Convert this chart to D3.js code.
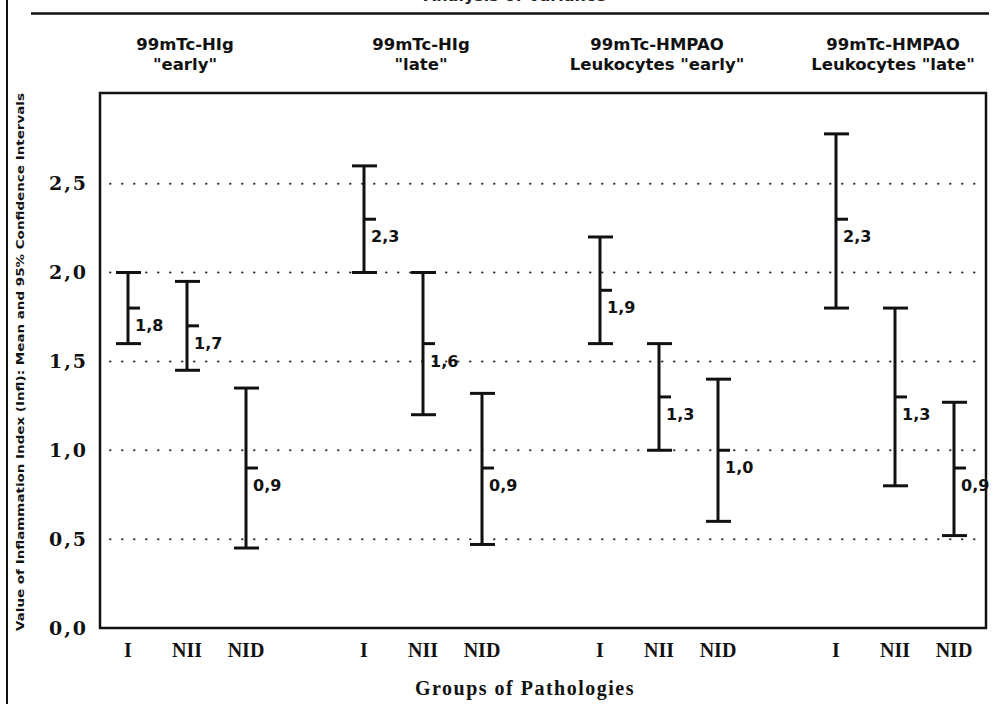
<!DOCTYPE html>
<html>
<head>
<meta charset="utf-8">
<script src="https://cdn.jsdelivr.net/npm/d3@7"></script>
<style>
  body { margin: 0; background: #fff; }
  svg { display: block; }
</style>
</head>
<body>
<div id="container"></div>
<script>
// data
var groupLine1 = ["99mTc-HIg", "99mTc-HIg", "99mTc-HMPAO", "99mTc-HMPAO"]
var groupLine2 = ['"early"', '"late"', 'Leukocytes "early"', 'Leukocytes "late"']
var pathologies = ["I", "NII", "NID"]
var means = [[1.8, 1.7, 0.9], [2.3, 1.6, 0.9], [1.9, 1.3, 1.0], [2.3, 1.3, 0.9]]
var upper = [[2.0, 1.95, 1.35], [2.6, 2.0, 1.32], [2.2, 1.6, 1.4], [2.78, 1.8, 1.27]]
var lower = [[1.6, 1.45, 0.45], [2.0, 1.2, 0.47], [1.6, 1.0, 0.6], [1.8, 0.8, 0.52]]
var yTicks = [0, 0.5, 1.0, 1.5, 2.0, 2.5]
var gridValues = [0.5, 1.0, 1.5, 2.0, 2.5]

var width = 1004
var height = 704
var frame = { left: 100, top: 93, right: 986, bottom: 628 }

var locale = d3.formatLocale({ decimal: ",", thousands: ".", grouping: [3], currency: ["", ""] })
var fmt = locale.format(".1f")

var svg = d3.select("#container")
  .append("svg")
  .attr("width", width)
  .attr("height", height)

var y = d3.scaleLinear()
  .domain([0, 3.01])
  .range([frame.bottom, frame.top])

var groupIds = d3.range(groupLine1.length)
var xGroup = d3.scaleBand()
  .domain(groupIds)
  .range([69, 1013])
  .padding(0)

var xInner = d3.scalePoint()
  .domain(pathologies)
  .range([-59, 59])

function xPos(g, p) {
  return xGroup(g) + xGroup.bandwidth() / 2 + xInner(p)
}

// flatten for drawing
var rows = []
groupIds.forEach(function(g) {
  pathologies.forEach(function(p, i) {
    rows.push({ g: g, p: p, mean: means[g][i], lo: lower[g][i], hi: upper[g][i] })
  })
})

// page decorations: left border, title (cut by the page edge), top rule
svg.append("line")
  .attr("x1", 7).attr("x2", 7).attr("y1", 0).attr("y2", height)
  .attr("stroke", "#111").attr("stroke-width", 2)

svg.append("text")
  .attr("x", 515).attr("y", 1)
  .attr("text-anchor", "middle")
  .style("font-family", "DejaVu Sans").style("font-weight", "bold").style("font-size", "16px")
  .style("fill", "#222")
  .text("Analysis of Variance")

svg.append("line")
  .attr("x1", 31).attr("x2", 989).attr("y1", 13.5).attr("y2", 13.5)
  .attr("stroke", "#111").attr("stroke-width", 2.5)

// group titles
var titles = svg.append("g")
  .selectAll("text")
  .data(groupIds)
  .enter()
  .append("text")
  .attr("text-anchor", "middle")
  .style("font-family", "DejaVu Sans").style("font-weight", "bold").style("font-size", "16.5px")
  .style("fill", "#111")
titles.append("tspan")
  .attr("x", (d) => xGroup(d) + xGroup.bandwidth() / 2 - 2)
  .attr("y", 50)
  .text((d) => groupLine1[d])
titles.append("tspan")
  .attr("x", (d) => xGroup(d) + xGroup.bandwidth() / 2 - 2)
  .attr("y", 70)
  .text((d) => groupLine2[d])

// dotted grid
svg.append("g")
  .selectAll("line")
  .data(gridValues)
  .enter()
  .append("line")
  .attr("x1", 110).attr("x2", frame.right)
  .attr("y1", (d) => y(d)).attr("y2", (d) => y(d))
  .attr("stroke", "#333")
  .attr("stroke-width", 2)
  .attr("stroke-linecap", "round")
  .attr("stroke-dasharray", "0.5,11.5")

// frame
svg.append("rect")
  .attr("x", frame.left).attr("y", frame.top)
  .attr("width", frame.right - frame.left)
  .attr("height", frame.bottom - frame.top)
  .attr("fill", "none")
  .attr("stroke", "#111")
  .attr("stroke-width", 2.5)

// y axis ticks
var yAxis = svg.append("g")
  .attr("transform", "translate(" + frame.left + ",0)")
  .call(d3.axisLeft(y).tickValues(yTicks).tickSize(0).tickPadding(12).tickFormat(fmt))
yAxis.select(".domain").remove()
yAxis.selectAll("text")
  .style("font-family", "DejaVu Serif").style("font-weight", "bold").style("font-size", "19px")
  .style("letter-spacing", "2px")
  .style("fill", "#111")

// y title
svg.append("text")
  .attr("transform", "translate(24," + 362 + ") rotate(-90)")
  .attr("text-anchor", "middle")
  .attr("textLength", 538)
  .attr("lengthAdjust", "spacingAndGlyphs")
  .style("font-family", "DejaVu Sans").style("font-weight", "bold").style("font-size", "11px")
  .style("fill", "#111")
  .text("Value of Inflammation Index (Infl): Mean and 95% Confidence Intervals")

// x tick labels
svg.append("g")
  .selectAll("text")
  .data(rows)
  .enter()
  .append("text")
  .attr("x", (d) => xPos(d.g, d.p))
  .attr("y", 657)
  .attr("text-anchor", "middle")
  .style("font-family", "Liberation Serif").style("font-weight", "bold").style("font-size", "20px")
  .style("fill", "#111")
  .text((d) => d.p)

svg.append("text")
  .attr("x", 525).attr("y", 695)
  .attr("text-anchor", "middle")
  .style("font-family", "Liberation Serif").style("font-weight", "bold").style("font-size", "20px")
  .style("letter-spacing", "1.5px")
  .style("fill", "#111")
  .text("Groups of Pathologies")

// error bars
var bars = svg.append("g")
  .selectAll("g")
  .data(rows)
  .enter()
  .append("g")
  .attr("stroke", "#111")
  .attr("stroke-width", 3)

bars.append("line")
  .attr("x1", (d) => xPos(d.g, d.p)).attr("x2", (d) => xPos(d.g, d.p))
  .attr("y1", (d) => y(d.hi)).attr("y2", (d) => y(d.lo))
bars.append("line")
  .attr("x1", (d) => xPos(d.g, d.p) - 12).attr("x2", (d) => xPos(d.g, d.p) + 13)
  .attr("y1", (d) => y(d.hi)).attr("y2", (d) => y(d.hi))
bars.append("line")
  .attr("x1", (d) => xPos(d.g, d.p) - 12).attr("x2", (d) => xPos(d.g, d.p) + 13)
  .attr("y1", (d) => y(d.lo)).attr("y2", (d) => y(d.lo))
bars.append("line")
  .attr("x1", (d) => xPos(d.g, d.p)).attr("x2", (d) => xPos(d.g, d.p) + 12)
  .attr("y1", (d) => y(d.mean)).attr("y2", (d) => y(d.mean))

// mean labels
svg.append("g")
  .selectAll("text")
  .data(rows)
  .enter()
  .append("text")
  .attr("x", (d) => xPos(d.g, d.p) + 7)
  .attr("y", (d) => y(d.mean) + 23)
  .style("font-family", "DejaVu Sans").style("font-weight", "bold").style("font-size", "16px")
  .style("fill", "#111")
  .text((d) => fmt(d.mean))
</script>
</body>
</html>
